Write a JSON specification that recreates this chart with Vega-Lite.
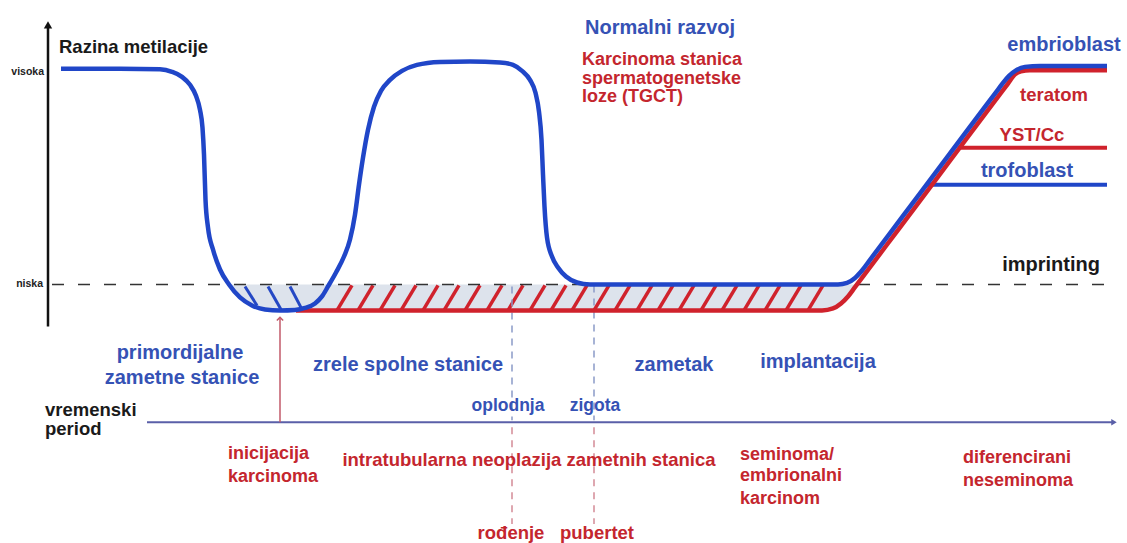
{
  "$schema": "https://vega.github.io/schema/vega-lite/v6.json",
  "width": 1127,
  "height": 543,
  "autosize": {"type": "fit", "contains": "padding"},
  "padding": 0,
  "background": "white",
  "config": {"view": {"stroke": null}},
  "datasets": {
    "blue": [
      {"i":1,"x":61,"y":69},{"i":2,"x":120,"y":69},{"i":3,"x":160,"y":69.5},{"i":4,"x":172,"y":72},{"i":5,"x":182,"y":77},
      {"i":6,"x":190,"y":85},{"i":7,"x":196,"y":96},{"i":8,"x":200,"y":110},{"i":9,"x":202.5,"y":128},{"i":10,"x":204,"y":155},
      {"i":11,"x":205.5,"y":200},{"i":12,"x":208,"y":228},{"i":13,"x":213,"y":250},{"i":14,"x":220,"y":270},{"i":15,"x":229,"y":285},
      {"i":16,"x":240,"y":298},{"i":17,"x":252,"y":306},{"i":18,"x":265,"y":310},{"i":19,"x":280,"y":311},{"i":20,"x":295,"y":310.5},
      {"i":21,"x":305,"y":308.5},{"i":22,"x":315,"y":304},{"i":23,"x":322,"y":297},{"i":24,"x":328,"y":287},{"i":25,"x":336,"y":273},
      {"i":26,"x":344,"y":257},{"i":27,"x":350,"y":240},{"i":28,"x":355,"y":215},{"i":29,"x":359,"y":185},{"i":30,"x":363,"y":158},
      {"i":31,"x":368,"y":130},{"i":32,"x":374,"y":107},{"i":33,"x":381,"y":91},{"i":34,"x":390,"y":80},{"i":35,"x":402,"y":71},
      {"i":36,"x":417,"y":65},{"i":37,"x":440,"y":62},{"i":38,"x":470,"y":61.5},{"i":39,"x":500,"y":62.5},{"i":40,"x":513,"y":65},
      {"i":41,"x":522,"y":71},{"i":42,"x":530,"y":80},{"i":43,"x":535.5,"y":93},{"i":44,"x":539,"y":112},{"i":45,"x":541.5,"y":140},
      {"i":46,"x":543,"y":175},{"i":47,"x":544.5,"y":207},{"i":48,"x":547,"y":238},{"i":49,"x":552,"y":257},{"i":50,"x":558,"y":268},
      {"i":51,"x":566,"y":277},{"i":52,"x":577,"y":283},{"i":53,"x":590,"y":285},{"i":54,"x":700,"y":285},{"i":55,"x":838,"y":285},
      {"i":56,"x":847,"y":283.5},{"i":57,"x":855,"y":278.5},{"i":58,"x":862,"y":271},{"i":59,"x":870,"y":260.3},{"i":60,"x":900,"y":220.3},
      {"i":61,"x":950,"y":153.7},{"i":62,"x":990,"y":100.3},{"i":63,"x":998,"y":89.7},{"i":64,"x":1003,"y":83},{"i":65,"x":1009,"y":76},
      {"i":66,"x":1016,"y":70.5},{"i":67,"x":1025,"y":67},{"i":68,"x":1040,"y":66},{"i":69,"x":1107,"y":66}
    ],
    "red": [
      {"i":1,"x":296,"y":311},{"i":2,"x":500,"y":311},{"i":3,"x":822,"y":311},{"i":4,"x":833,"y":309},{"i":5,"x":841,"y":304},
      {"i":6,"x":848,"y":297},{"i":7,"x":855,"y":287.7},{"i":8,"x":900,"y":227.7},{"i":9,"x":950,"y":161},{"i":10,"x":1000,"y":94.3},
      {"i":11,"x":1008,"y":83.7},{"i":12,"x":1015,"y":74.5},{"i":13,"x":1021,"y":71.5},{"i":14,"x":1030,"y":70.5},{"i":15,"x":1107,"y":70.5}
    ],
    "fill": [
      {"x":229,"y":285},{"x":240,"y":298},{"x":252,"y":306},{"x":265,"y":310},{"x":280,"y":311},
      {"x":822,"y":311},{"x":833,"y":309},{"x":841,"y":304},{"x":848,"y":297},{"x":857,"y":285}
    ],
    "hatchBlue": [
      {"x":245,"y":287,"x2":257,"y2":306},{"x":268,"y":287,"x2":281,"y2":310},{"x":290,"y":287,"x2":302,"y2":310}
    ],
    "hatchRed": [
      {"x":337,"y":311,"x2":352,"y2":286},{"x":358,"y":311,"x2":373,"y2":286},{"x":380,"y":311,"x2":395,"y2":286},
      {"x":401,"y":311,"x2":416,"y2":286},{"x":423,"y":311,"x2":438,"y2":286},{"x":444,"y":311,"x2":459,"y2":286},
      {"x":465,"y":311,"x2":480,"y2":286},{"x":487,"y":311,"x2":502,"y2":286},{"x":508,"y":311,"x2":523,"y2":286},
      {"x":530,"y":311,"x2":545,"y2":286},{"x":551,"y":311,"x2":566,"y2":286},{"x":572,"y":311,"x2":587,"y2":286},
      {"x":594,"y":311,"x2":609,"y2":286},{"x":615,"y":311,"x2":630,"y2":286},{"x":637,"y":311,"x2":652,"y2":286},
      {"x":658,"y":311,"x2":673,"y2":286},{"x":679,"y":311,"x2":694,"y2":286},{"x":701,"y":311,"x2":716,"y2":286},
      {"x":722,"y":311,"x2":737,"y2":286},{"x":744,"y":311,"x2":759,"y2":286},{"x":765,"y":311,"x2":780,"y2":286},
      {"x":786,"y":311,"x2":801,"y2":286},{"x":808,"y":311,"x2":823,"y2":286}
    ],
    "tBlueBig": [
      {"t":"Normalni razvoj","x":660,"y":34},
      {"t":"primordijalne","x":180,"y":360},
      {"t":"zametne stanice","x":182,"y":385},
      {"t":"zrele spolne stanice","x":408,"y":372},
      {"t":"zametak","x":674,"y":372},
      {"t":"implantacija","x":818,"y":369},
      {"t":"embrioblast","x":1064,"y":51},
      {"t":"trofoblast","x":1027,"y":177}
    ],
    "tBlueSmall": [
      {"t":"oplodnja","x":508,"y":412},
      {"t":"zigota","x":595,"y":412}
    ],
    "tRedLeft": [
      {"t":"Karcinoma stanica","x":582,"y":65},
      {"t":"spermatogenetske","x":582,"y":84},
      {"t":"loze (TGCT)","x":582,"y":102},
      {"t":"inicijacija","x":228,"y":460},
      {"t":"karcinoma","x":228,"y":483},
      {"t":"seminoma/","x":740,"y":461},
      {"t":"embrionalni","x":740,"y":482},
      {"t":"karcinom","x":740,"y":505},
      {"t":"diferencirani","x":963,"y":464},
      {"t":"neseminoma","x":963,"y":487}
    ],
    "tRedCenter": [
      {"t":"teratom","x":1054,"y":101},
      {"t":"YST/Cc","x":1032,"y":141},
      {"t":"intratubularna neoplazija zametnih stanica","x":529,"y":467},
      {"t":"rođenje","x":511,"y":540},
      {"t":"pubertet","x":597,"y":540}
    ],
    "tBlack": [
      {"t":"Razina metilacije","x":59,"y":53},
      {"t":"vremenski","x":45,"y":417},
      {"t":"period","x":45,"y":436}
    ],
    "tImprint": [
      {"t":"imprinting","x":1051,"y":271}
    ],
    "tSmall": [
      {"t":"visoka","x":44,"y":75},
      {"t":"niska","x":43,"y":288}
    ]
  },
  "encoding": {
    "x": {"field": "x", "type": "quantitative", "scale": {"domain": [0, 1127], "nice": false, "zero": false}, "axis": null},
    "y": {"field": "y", "type": "quantitative", "scale": {"domain": [543, 0], "nice": false, "zero": false}, "axis": null}
  },
  "layer": [
    {"data": {"name": "fill"}, "mark": {"type": "area", "color": "#dde3ec", "opacity": 1}, "encoding": {"y2": {"datum": 285}}},
    {"data": {"name": "hatchBlue"}, "mark": {"type": "rule", "color": "#2548c4", "strokeWidth": 3}, "encoding": {"x2": {"field": "x2"}, "y2": {"field": "y2"}}},
    {"data": {"name": "hatchRed"}, "mark": {"type": "rule", "color": "#d0222c", "strokeWidth": 3.5}, "encoding": {"x2": {"field": "x2"}, "y2": {"field": "y2"}}},
    {"data": {"values": [{"x": 52, "x2": 1108, "y": 285}]}, "mark": {"type": "rule", "color": "#333333", "strokeWidth": 1.5, "strokeDash": [12, 14]}, "encoding": {"x2": {"field": "x2"}}},
    {"data": {"values": [{"x": 48, "y": 26, "y2": 327}]}, "mark": {"type": "rule", "color": "#111111", "strokeWidth": 2.5}, "encoding": {"y2": {"field": "y2"}}},
    {"data": {"values": [{"x": 48, "y": 25}]}, "mark": {"type": "point", "shape": "triangle-up", "filled": true, "size": 70, "color": "#111111", "opacity": 1}, "encoding": {}},
    {"data": {"values": [{"x": 147, "x2": 1112, "y": 423}]}, "mark": {"type": "rule", "color": "#5a5fa8", "strokeWidth": 2}, "encoding": {"x2": {"field": "x2"}}},
    {"data": {"values": [{"x": 1114, "y": 423}]}, "mark": {"type": "point", "shape": "triangle-right", "filled": true, "size": 40, "color": "#5a5fa8", "opacity": 1}, "encoding": {}},
    {"data": {"values": [{"x": 280, "y": 423, "y2": 319}]}, "mark": {"type": "rule", "color": "#c25a6a", "strokeWidth": 1.5}, "encoding": {"y2": {"field": "y2"}}},
    {"data": {"values": [{"x": 280, "y": 318}]}, "mark": {"type": "point", "shape": "M-1,1L0,0L1,1", "filled": false, "size": 40, "strokeWidth": 1.5, "color": "#c25a6a", "opacity": 1}, "encoding": {}},
    {"data": {"values": [{"x": 512, "y": 287, "y2": 421}, {"x": 594, "y": 286, "y2": 421}]}, "mark": {"type": "rule", "color": "#8a9ac8", "strokeWidth": 1.5, "strokeDash": [7, 6]}, "encoding": {"y2": {"field": "y2"}}},
    {"data": {"values": [{"x": 512, "y": 428, "y2": 525}, {"x": 594, "y": 428, "y2": 525}]}, "mark": {"type": "rule", "color": "#d48a96", "strokeWidth": 1.5, "strokeDash": [7, 6]}, "encoding": {"y2": {"field": "y2"}}},
    {"data": {"values": [{"x": 958, "x2": 1107, "y": 148}]}, "mark": {"type": "rule", "color": "#d0222c", "strokeWidth": 4}, "encoding": {"x2": {"field": "x2"}}},
    {"data": {"values": [{"x": 926, "x2": 1107, "y": 185}]}, "mark": {"type": "rule", "color": "#2046c8", "strokeWidth": 4}, "encoding": {"x2": {"field": "x2"}}},
    {"data": {"name": "red"}, "mark": {"type": "line", "color": "#d0222c", "strokeWidth": 4.5, "interpolate": "monotone"}, "encoding": {"order": {"field": "i", "type": "quantitative"}}},
    {"data": {"name": "blue"}, "mark": {"type": "line", "color": "#2046c8", "strokeWidth": 4.5, "interpolate": "monotone"}, "encoding": {"order": {"field": "i", "type": "quantitative"}}},
    {"data": {"name": "tBlueBig"}, "mark": {"type": "text", "font": "Liberation Sans", "fontWeight": "bold", "fontSize": 20, "color": "#3552b5", "align": "center", "baseline": "alphabetic"}, "encoding": {"text": {"field": "t"}}},
    {"data": {"name": "tBlueSmall"}, "mark": {"type": "text", "font": "Liberation Sans", "fontWeight": "bold", "fontSize": 17.5, "color": "#3552b5", "align": "center", "baseline": "alphabetic"}, "encoding": {"text": {"field": "t"}}},
    {"data": {"name": "tRedLeft"}, "mark": {"type": "text", "font": "Liberation Sans", "fontWeight": "bold", "fontSize": 18, "color": "#c4262e", "align": "left", "baseline": "alphabetic"}, "encoding": {"text": {"field": "t"}}},
    {"data": {"name": "tRedCenter"}, "mark": {"type": "text", "font": "Liberation Sans", "fontWeight": "bold", "fontSize": 18.5, "color": "#c4262e", "align": "center", "baseline": "alphabetic"}, "encoding": {"text": {"field": "t"}}},
    {"data": {"name": "tBlack"}, "mark": {"type": "text", "font": "Liberation Sans", "fontWeight": "bold", "fontSize": 18.5, "color": "#1a1a1a", "align": "left", "baseline": "alphabetic"}, "encoding": {"text": {"field": "t"}}},
    {"data": {"name": "tImprint"}, "mark": {"type": "text", "font": "Liberation Sans", "fontWeight": "bold", "fontSize": 20, "color": "#1a1a1a", "align": "center", "baseline": "alphabetic"}, "encoding": {"text": {"field": "t"}}},
    {"data": {"name": "tSmall"}, "mark": {"type": "text", "font": "Liberation Sans", "fontWeight": "bold", "fontSize": 10.5, "color": "#222222", "align": "right", "baseline": "alphabetic"}, "encoding": {"text": {"field": "t"}}}
  ]
}
